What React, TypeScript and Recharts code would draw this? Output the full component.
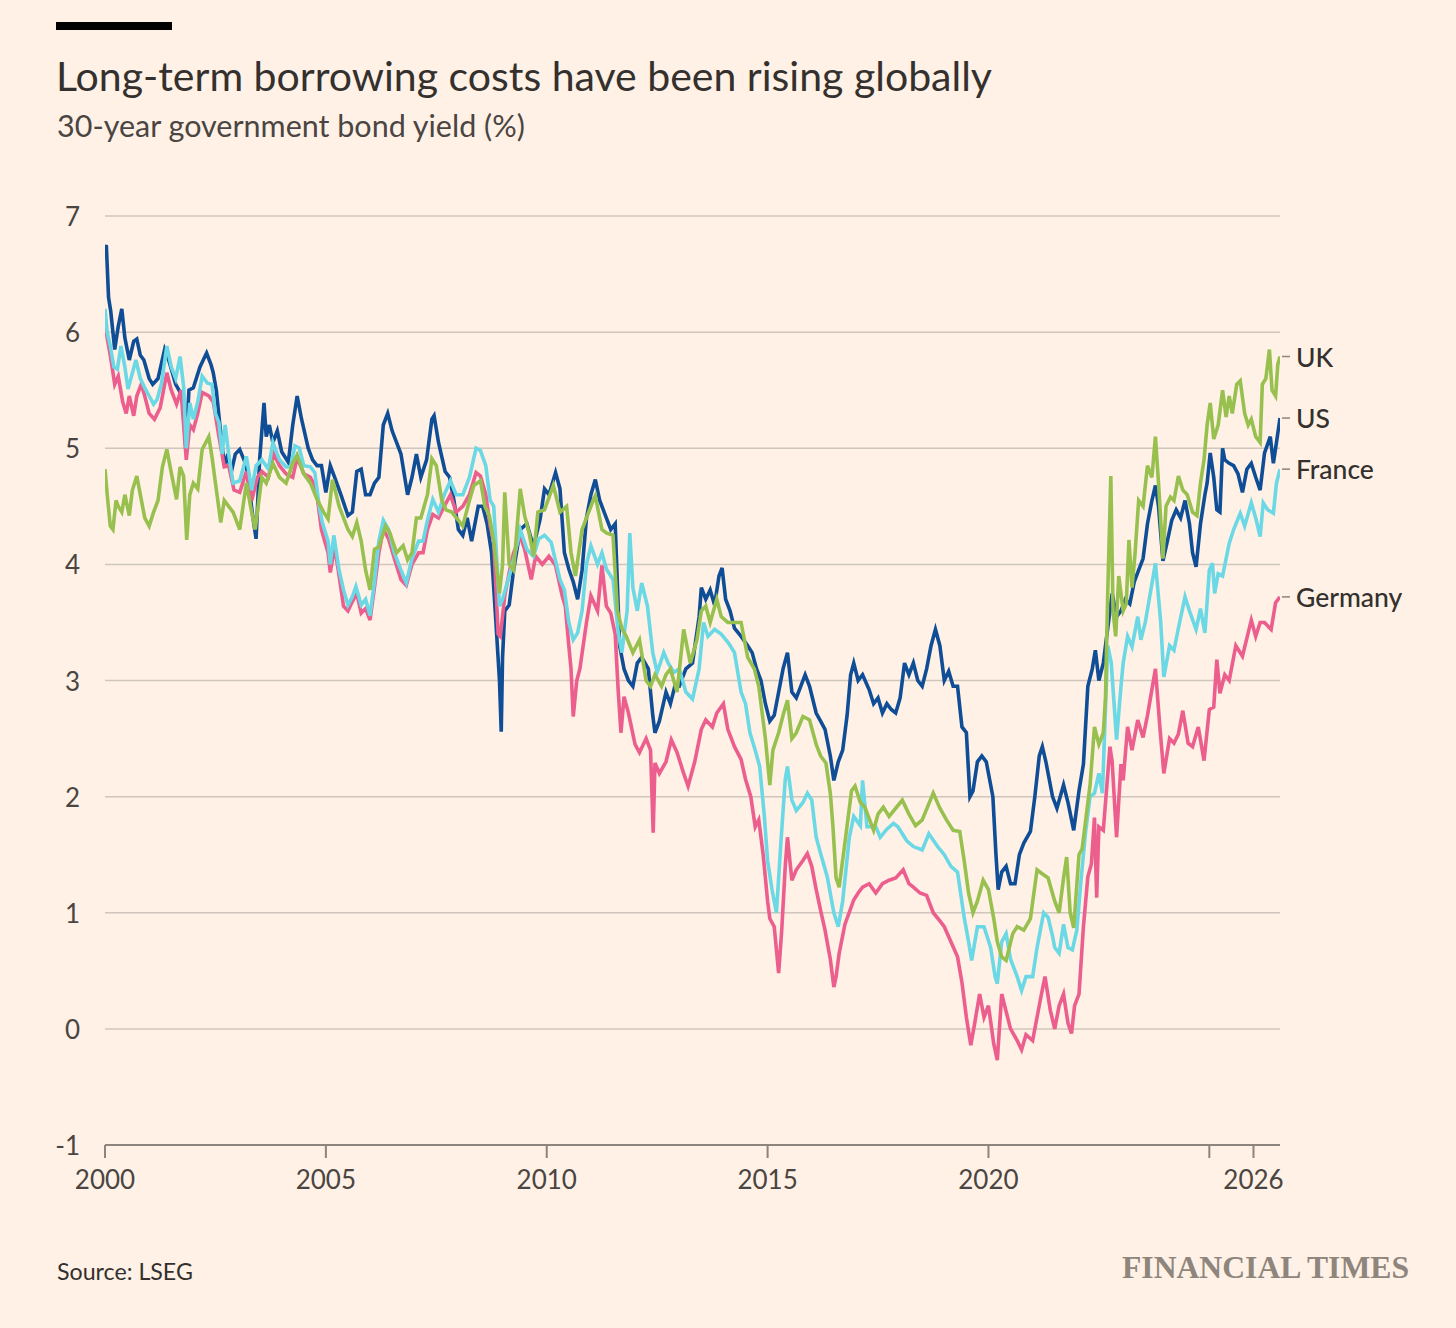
import React from 'react';
import { LineChart, Line, XAxis, YAxis, CartesianGrid, LabelList } from 'recharts';

// ---------- data (year as decimal, yield %) ----------
const YEAR_TICKS = [2000, 2005, 2010, 2015, 2020, 2025, 2026];
const YEAR_TICK_LABELS: Record<number, string> = { 2000: '2000', 2005: '2005', 2010: '2010', 2015: '2015', 2020: '2020', 2025: '', 2026: '2026' };
const VALUE_TICKS = [-1, 0, 1, 2, 3, 4, 5, 6, 7];

const US: [number, number][] = [
  [2000.0, 6.72], [2000.03, 6.75], [2000.08, 6.3], [2000.13, 6.18], [2000.22, 5.85], [2000.3, 6.05], [2000.38, 6.2],
  [2000.45, 5.95], [2000.55, 5.76], [2000.65, 5.92], [2000.72, 5.94], [2000.8, 5.8], [2000.88, 5.76], [2001.0, 5.6],
  [2001.08, 5.55], [2001.2, 5.6], [2001.35, 5.85], [2001.45, 5.75], [2001.6, 5.55], [2001.75, 5.45], [2001.83, 5.0],
  [2001.9, 5.5], [2002.0, 5.52], [2002.15, 5.7], [2002.3, 5.82], [2002.4, 5.72], [2002.45, 5.65], [2002.52, 5.5],
  [2002.6, 5.2], [2002.7, 4.85], [2002.78, 4.95], [2002.85, 4.78], [2002.95, 4.95], [2003.05, 4.99], [2003.2, 4.85],
  [2003.35, 4.4], [2003.42, 4.22], [2003.5, 4.9], [2003.6, 5.39], [2003.65, 5.1], [2003.72, 5.2], [2003.8, 5.05],
  [2003.9, 5.15], [2004.0, 4.97], [2004.15, 4.88], [2004.25, 5.2], [2004.35, 5.45], [2004.45, 5.25], [2004.6, 5.0],
  [2004.7, 4.9], [2004.8, 4.85], [2004.9, 4.85], [2005.0, 4.62], [2005.1, 4.85], [2005.2, 4.75], [2005.35, 4.59],
  [2005.5, 4.42], [2005.6, 4.45], [2005.7, 4.8], [2005.8, 4.82], [2005.9, 4.6], [2006.0, 4.6], [2006.1, 4.7],
  [2006.2, 4.75], [2006.3, 5.2], [2006.4, 5.3], [2006.5, 5.15], [2006.6, 5.05], [2006.7, 4.95], [2006.85, 4.6],
  [2006.95, 4.75], [2007.05, 4.95], [2007.15, 4.75], [2007.28, 4.9], [2007.4, 5.25], [2007.45, 5.28], [2007.55, 5.05],
  [2007.7, 4.8], [2007.8, 4.75], [2007.9, 4.55], [2008.0, 4.3], [2008.1, 4.25], [2008.2, 4.4], [2008.3, 4.2],
  [2008.45, 4.5], [2008.55, 4.5], [2008.65, 4.35], [2008.75, 4.1], [2008.85, 3.5], [2008.93, 3.0], [2008.97, 2.56],
  [2009.0, 3.2], [2009.05, 3.6], [2009.15, 3.65], [2009.25, 3.95], [2009.4, 4.3], [2009.55, 4.35], [2009.7, 4.15],
  [2009.85, 4.39], [2009.95, 4.65], [2010.05, 4.6], [2010.2, 4.79], [2010.3, 4.65], [2010.4, 4.1], [2010.5, 3.96],
  [2010.6, 3.85], [2010.7, 3.7], [2010.8, 3.95], [2010.9, 4.4], [2011.0, 4.6], [2011.1, 4.73], [2011.2, 4.55],
  [2011.3, 4.45], [2011.45, 4.3], [2011.55, 4.35], [2011.65, 3.3], [2011.75, 3.1], [2011.85, 3.0], [2011.95, 2.95],
  [2012.05, 3.15], [2012.15, 3.2], [2012.3, 3.1], [2012.4, 2.7], [2012.45, 2.55], [2012.55, 2.65], [2012.7, 2.9],
  [2012.8, 2.8], [2012.9, 2.95], [2013.0, 2.95], [2013.15, 3.1], [2013.3, 3.15], [2013.45, 3.55], [2013.5, 3.8],
  [2013.6, 3.7], [2013.7, 3.78], [2013.8, 3.65], [2013.9, 3.9], [2013.97, 3.97], [2014.05, 3.7], [2014.15, 3.6],
  [2014.25, 3.45], [2014.4, 3.38], [2014.55, 3.3], [2014.65, 3.24], [2014.75, 3.1], [2014.85, 3.0], [2014.95, 2.8],
  [2015.05, 2.65], [2015.15, 2.7], [2015.25, 2.9], [2015.35, 3.1], [2015.45, 3.24], [2015.55, 2.9], [2015.65, 2.85],
  [2015.75, 2.95], [2015.85, 3.05], [2015.95, 2.95], [2016.1, 2.72], [2016.2, 2.65], [2016.3, 2.58], [2016.42, 2.35],
  [2016.5, 2.14], [2016.6, 2.3], [2016.7, 2.4], [2016.8, 2.7], [2016.88, 3.05], [2016.95, 3.15], [2017.05, 3.0],
  [2017.15, 3.05], [2017.3, 2.92], [2017.4, 2.8], [2017.5, 2.85], [2017.6, 2.72], [2017.7, 2.8], [2017.8, 2.75],
  [2017.9, 2.72], [2018.0, 2.85], [2018.1, 3.15], [2018.2, 3.05], [2018.3, 3.15], [2018.4, 3.0], [2018.5, 2.95],
  [2018.6, 3.1], [2018.7, 3.3], [2018.8, 3.44], [2018.9, 3.3], [2019.0, 3.0], [2019.1, 3.08], [2019.2, 2.95],
  [2019.3, 2.95], [2019.4, 2.6], [2019.5, 2.55], [2019.58, 2.0], [2019.65, 2.05], [2019.75, 2.3], [2019.85, 2.35],
  [2019.95, 2.3], [2020.1, 2.0], [2020.17, 1.5], [2020.22, 1.2], [2020.3, 1.35], [2020.4, 1.4], [2020.5, 1.25],
  [2020.6, 1.25], [2020.7, 1.5], [2020.8, 1.6], [2020.95, 1.7], [2021.05, 2.0], [2021.15, 2.35], [2021.22, 2.43],
  [2021.3, 2.3], [2021.45, 2.0], [2021.55, 1.9], [2021.7, 2.1], [2021.8, 1.95], [2021.93, 1.71], [2022.05, 2.05],
  [2022.15, 2.28], [2022.25, 2.95], [2022.35, 3.1], [2022.42, 3.26], [2022.5, 3.0], [2022.6, 3.15], [2022.7, 3.45],
  [2022.8, 3.75], [2022.9, 3.55], [2023.0, 3.6], [2023.1, 3.7], [2023.2, 3.66], [2023.3, 3.85], [2023.4, 3.95],
  [2023.5, 4.05], [2023.6, 4.35], [2023.7, 4.55], [2023.78, 4.68], [2023.85, 4.5], [2023.95, 4.03], [2024.05, 4.2],
  [2024.15, 4.38], [2024.25, 4.47], [2024.35, 4.4], [2024.45, 4.55], [2024.55, 4.35], [2024.62, 4.1], [2024.7, 3.98],
  [2024.8, 4.35], [2024.9, 4.6], [2024.95, 4.7], [2025.02, 4.96], [2025.1, 4.75], [2025.17, 4.47], [2025.24, 4.45],
  [2025.3, 5.0], [2025.35, 4.9], [2025.45, 4.87], [2025.55, 4.85], [2025.65, 4.78], [2025.75, 4.62], [2025.85, 4.82],
  [2025.95, 4.87], [2026.05, 4.75], [2026.15, 4.64], [2026.25, 4.96], [2026.38, 5.1], [2026.45, 4.87], [2026.52, 5.05],
  [2026.6, 5.26],
];

const UK: [number, number][] = [
  [2000.0, 4.82], [2000.05, 4.6], [2000.12, 4.33], [2000.18, 4.3], [2000.25, 4.55], [2000.3, 4.5], [2000.38, 4.45],
  [2000.45, 4.6], [2000.55, 4.42], [2000.62, 4.64], [2000.72, 4.76], [2000.8, 4.6], [2000.9, 4.4], [2001.0, 4.33],
  [2001.1, 4.45], [2001.2, 4.55], [2001.3, 4.84], [2001.4, 4.99], [2001.5, 4.79], [2001.62, 4.56], [2001.7, 4.84],
  [2001.78, 4.76], [2001.85, 4.21], [2001.92, 4.6], [2002.0, 4.7], [2002.1, 4.65], [2002.2, 4.99], [2002.35, 5.1],
  [2002.42, 4.93], [2002.5, 4.7], [2002.55, 4.56], [2002.62, 4.36], [2002.7, 4.55], [2002.8, 4.5], [2002.9, 4.45],
  [2003.05, 4.3], [2003.2, 4.7], [2003.32, 4.45], [2003.4, 4.3], [2003.55, 4.75], [2003.65, 4.7], [2003.8, 4.87],
  [2003.95, 4.75], [2004.1, 4.7], [2004.25, 4.87], [2004.35, 4.94], [2004.5, 4.78], [2004.65, 4.7], [2004.8, 4.56],
  [2004.95, 4.45], [2005.05, 4.39], [2005.15, 4.73], [2005.3, 4.5], [2005.5, 4.3], [2005.6, 4.24], [2005.7, 4.36],
  [2005.8, 4.2], [2005.9, 3.95], [2006.0, 3.78], [2006.1, 4.13], [2006.2, 4.15], [2006.35, 4.33], [2006.45, 4.27],
  [2006.6, 4.1], [2006.75, 4.16], [2006.85, 4.04], [2006.95, 4.1], [2007.05, 4.4], [2007.15, 4.4], [2007.3, 4.6],
  [2007.4, 4.91], [2007.5, 4.85], [2007.62, 4.56], [2007.72, 4.47], [2007.85, 4.45], [2008.0, 4.38], [2008.1, 4.33],
  [2008.25, 4.55], [2008.35, 4.68], [2008.5, 4.72], [2008.6, 4.5], [2008.7, 4.42], [2008.8, 4.2], [2008.93, 3.75],
  [2009.0, 4.0], [2009.05, 4.62], [2009.15, 4.0], [2009.25, 3.95], [2009.4, 4.65], [2009.5, 4.42], [2009.6, 4.27],
  [2009.7, 4.07], [2009.8, 4.45], [2009.95, 4.47], [2010.15, 4.68], [2010.3, 4.45], [2010.45, 4.5], [2010.55, 4.1],
  [2010.65, 3.9], [2010.8, 4.3], [2010.92, 4.42], [2011.05, 4.55], [2011.1, 4.59], [2011.25, 4.3], [2011.35, 4.27],
  [2011.5, 4.25], [2011.6, 3.6], [2011.7, 3.45], [2011.8, 3.38], [2011.95, 3.24], [2012.1, 3.35], [2012.25, 3.0],
  [2012.35, 2.95], [2012.45, 3.05], [2012.6, 2.95], [2012.7, 3.05], [2012.8, 3.1], [2012.95, 2.9], [2013.1, 3.44],
  [2013.25, 3.15], [2013.4, 3.35], [2013.5, 3.6], [2013.6, 3.64], [2013.7, 3.5], [2013.85, 3.7], [2013.95, 3.55],
  [2014.1, 3.5], [2014.25, 3.5], [2014.4, 3.5], [2014.55, 3.2], [2014.7, 3.1], [2014.8, 2.95], [2014.95, 2.5],
  [2015.05, 2.1], [2015.12, 2.4], [2015.25, 2.55], [2015.35, 2.7], [2015.45, 2.83], [2015.55, 2.5], [2015.65, 2.55],
  [2015.8, 2.69], [2015.95, 2.66], [2016.1, 2.45], [2016.2, 2.35], [2016.32, 2.29], [2016.42, 2.03], [2016.48, 1.74],
  [2016.55, 1.3], [2016.62, 1.22], [2016.75, 1.6], [2016.9, 2.05], [2016.98, 2.09], [2017.1, 1.95], [2017.2, 1.91],
  [2017.4, 1.71], [2017.5, 1.85], [2017.62, 1.91], [2017.75, 1.83], [2017.9, 1.9], [2018.05, 1.97], [2018.2, 1.85],
  [2018.35, 1.75], [2018.5, 1.8], [2018.75, 2.03], [2018.9, 1.9], [2019.05, 1.8], [2019.2, 1.71], [2019.35, 1.7],
  [2019.45, 1.45], [2019.55, 1.17], [2019.65, 1.0], [2019.75, 1.1], [2019.88, 1.28], [2020.0, 1.2], [2020.12, 0.95],
  [2020.2, 0.75], [2020.3, 0.62], [2020.4, 0.59], [2020.55, 0.82], [2020.65, 0.88], [2020.8, 0.85], [2020.95, 0.95],
  [2021.1, 1.37], [2021.2, 1.34], [2021.35, 1.3], [2021.5, 1.1], [2021.6, 1.0], [2021.7, 1.3], [2021.77, 1.48],
  [2021.85, 1.0], [2021.93, 0.87], [2022.05, 1.5], [2022.12, 1.55], [2022.3, 2.1], [2022.4, 2.6], [2022.5, 2.45],
  [2022.6, 2.55], [2022.65, 2.86], [2022.7, 3.75], [2022.77, 4.76], [2022.82, 3.6], [2022.88, 3.38], [2022.95, 3.9],
  [2023.05, 3.6], [2023.12, 3.66], [2023.18, 4.21], [2023.25, 3.8], [2023.32, 4.1], [2023.4, 4.55], [2023.5, 4.5],
  [2023.6, 4.85], [2023.7, 4.75], [2023.78, 5.1], [2023.85, 4.7], [2023.95, 4.05], [2024.02, 4.5], [2024.12, 4.58],
  [2024.2, 4.55], [2024.3, 4.76], [2024.4, 4.64], [2024.5, 4.6], [2024.62, 4.45], [2024.72, 4.42], [2024.8, 4.7],
  [2024.88, 4.9], [2024.95, 5.2], [2025.02, 5.39], [2025.1, 5.08], [2025.2, 5.2], [2025.3, 5.5], [2025.38, 5.27],
  [2025.45, 5.45], [2025.52, 5.3], [2025.62, 5.55], [2025.7, 5.58], [2025.8, 5.3], [2025.88, 5.2], [2025.95, 5.25],
  [2026.05, 5.1], [2026.15, 5.05], [2026.2, 5.55], [2026.28, 5.6], [2026.36, 5.85], [2026.42, 5.5], [2026.5, 5.45],
  [2026.55, 5.72], [2026.6, 5.79],
];

const FRANCE: [number, number][] = [
  [2000.0, 6.2], [2000.05, 6.0], [2000.12, 5.88], [2000.2, 5.7], [2000.28, 5.68], [2000.36, 5.88], [2000.45, 5.7],
  [2000.52, 5.51], [2000.6, 5.62], [2000.7, 5.76], [2000.8, 5.6], [2000.9, 5.52], [2001.0, 5.45], [2001.1, 5.38],
  [2001.18, 5.42], [2001.28, 5.56], [2001.4, 5.88], [2001.5, 5.7], [2001.6, 5.6], [2001.7, 5.79], [2001.78, 5.53],
  [2001.84, 5.0], [2001.92, 5.39], [2002.0, 5.25], [2002.1, 5.4], [2002.2, 5.62], [2002.32, 5.56], [2002.42, 5.55],
  [2002.5, 5.3], [2002.58, 5.22], [2002.65, 4.95], [2002.72, 5.2], [2002.8, 4.95], [2002.9, 4.7], [2003.05, 4.72],
  [2003.2, 4.93], [2003.32, 4.64], [2003.42, 4.85], [2003.55, 4.9], [2003.7, 4.82], [2003.8, 5.05], [2003.95, 4.9],
  [2004.1, 4.84], [2004.2, 4.84], [2004.3, 5.02], [2004.4, 5.0], [2004.5, 4.85], [2004.65, 4.84], [2004.75, 4.79],
  [2004.85, 4.5], [2004.92, 4.36], [2005.05, 4.2], [2005.1, 4.0], [2005.18, 4.25], [2005.3, 3.95], [2005.4, 3.78],
  [2005.5, 3.65], [2005.6, 3.72], [2005.68, 3.81], [2005.8, 3.65], [2005.9, 3.7], [2006.0, 3.56], [2006.1, 3.85],
  [2006.2, 4.2], [2006.3, 4.38], [2006.42, 4.3], [2006.55, 4.1], [2006.7, 3.95], [2006.82, 3.84], [2006.95, 4.05],
  [2007.1, 4.2], [2007.2, 4.2], [2007.3, 4.38], [2007.42, 4.56], [2007.55, 4.45], [2007.68, 4.6], [2007.82, 4.72],
  [2007.95, 4.6], [2008.1, 4.6], [2008.25, 4.75], [2008.4, 5.0], [2008.5, 4.98], [2008.62, 4.85], [2008.72, 4.55],
  [2008.8, 4.5], [2008.93, 3.64], [2009.0, 3.7], [2009.15, 3.9], [2009.25, 4.04], [2009.4, 4.3], [2009.55, 4.13],
  [2009.7, 4.07], [2009.82, 4.22], [2009.95, 4.25], [2010.1, 4.19], [2010.3, 3.87], [2010.4, 3.78], [2010.5, 3.5],
  [2010.6, 3.35], [2010.7, 3.41], [2010.8, 3.6], [2010.9, 4.0], [2011.0, 4.16], [2011.15, 4.0], [2011.25, 4.1],
  [2011.35, 3.96], [2011.5, 3.87], [2011.62, 3.41], [2011.7, 3.24], [2011.82, 3.6], [2011.88, 4.27], [2011.95, 3.8],
  [2012.05, 3.6], [2012.15, 3.84], [2012.28, 3.64], [2012.4, 3.24], [2012.5, 3.07], [2012.65, 3.24], [2012.75, 3.15],
  [2012.88, 3.07], [2013.0, 3.1], [2013.15, 2.9], [2013.3, 2.84], [2013.45, 3.1], [2013.55, 3.5], [2013.65, 3.38],
  [2013.8, 3.44], [2013.95, 3.4], [2014.12, 3.32], [2014.25, 3.24], [2014.4, 2.9], [2014.5, 2.8], [2014.6, 2.55],
  [2014.72, 2.4], [2014.82, 2.26], [2014.92, 1.86], [2015.0, 1.45], [2015.1, 1.2], [2015.2, 1.0], [2015.3, 1.6],
  [2015.4, 2.15], [2015.45, 2.26], [2015.55, 1.97], [2015.65, 1.88], [2015.8, 1.95], [2015.9, 2.03], [2016.0, 1.97],
  [2016.1, 1.65], [2016.2, 1.51], [2016.35, 1.31], [2016.5, 1.0], [2016.6, 0.88], [2016.7, 1.1], [2016.85, 1.65],
  [2016.95, 1.83], [2017.1, 1.75], [2017.15, 2.14], [2017.25, 1.74], [2017.45, 1.74], [2017.55, 1.65], [2017.7, 1.72],
  [2017.85, 1.77], [2017.95, 1.74], [2018.15, 1.62], [2018.3, 1.57], [2018.5, 1.54], [2018.65, 1.68], [2018.85, 1.57],
  [2019.0, 1.5], [2019.15, 1.4], [2019.3, 1.35], [2019.45, 0.96], [2019.55, 0.75], [2019.62, 0.59], [2019.75, 0.88],
  [2019.9, 0.88], [2020.05, 0.7], [2020.15, 0.45], [2020.2, 0.39], [2020.3, 0.75], [2020.4, 0.82], [2020.5, 0.6],
  [2020.65, 0.45], [2020.75, 0.33], [2020.85, 0.45], [2021.0, 0.45], [2021.1, 0.7], [2021.25, 1.0], [2021.35, 0.96],
  [2021.45, 0.8], [2021.5, 0.7], [2021.6, 0.65], [2021.7, 0.9], [2021.8, 0.7], [2021.9, 0.68], [2022.0, 0.85],
  [2022.1, 1.3], [2022.2, 1.7], [2022.3, 2.0], [2022.4, 2.03], [2022.5, 2.2], [2022.58, 2.03], [2022.7, 3.3],
  [2022.78, 3.15], [2022.9, 2.49], [2023.0, 2.95], [2023.05, 3.15], [2023.15, 3.38], [2023.25, 3.29], [2023.38, 3.55],
  [2023.45, 3.35], [2023.55, 3.5], [2023.78, 4.01], [2023.9, 3.5], [2023.97, 3.03], [2024.1, 3.3], [2024.2, 3.26],
  [2024.3, 3.45], [2024.45, 3.72], [2024.55, 3.6], [2024.7, 3.44], [2024.8, 3.62], [2024.9, 3.41], [2025.0, 3.95],
  [2025.07, 4.01], [2025.12, 3.75], [2025.2, 3.92], [2025.3, 3.9], [2025.45, 4.18], [2025.55, 4.3], [2025.7, 4.44],
  [2025.8, 4.33], [2025.95, 4.53], [2026.05, 4.4], [2026.15, 4.24], [2026.22, 4.53], [2026.32, 4.47], [2026.45, 4.44],
  [2026.52, 4.7], [2026.6, 4.82],
];

const GERMANY: [number, number][] = [
  [2000.0, 6.1], [2000.05, 5.95], [2000.12, 5.8], [2000.22, 5.55], [2000.3, 5.62], [2000.4, 5.4], [2000.48, 5.3],
  [2000.55, 5.45], [2000.65, 5.28], [2000.72, 5.45], [2000.82, 5.55], [2000.9, 5.45], [2001.0, 5.3], [2001.12, 5.25],
  [2001.25, 5.35], [2001.4, 5.65], [2001.5, 5.5], [2001.62, 5.38], [2001.72, 5.5], [2001.84, 4.9], [2001.92, 5.2],
  [2002.0, 5.16], [2002.1, 5.3], [2002.2, 5.48], [2002.35, 5.45], [2002.45, 5.4], [2002.58, 5.1], [2002.7, 4.84],
  [2002.8, 4.85], [2002.92, 4.64], [2003.05, 4.62], [2003.2, 4.8], [2003.32, 4.55], [2003.45, 4.75], [2003.55, 4.8],
  [2003.7, 4.75], [2003.82, 4.95], [2003.95, 4.85], [2004.1, 4.78], [2004.25, 4.75], [2004.35, 4.92], [2004.5, 4.78],
  [2004.65, 4.75], [2004.78, 4.65], [2004.9, 4.3], [2005.05, 4.1], [2005.1, 3.93], [2005.2, 4.15], [2005.3, 3.9],
  [2005.4, 3.64], [2005.5, 3.6], [2005.6, 3.68], [2005.7, 3.75], [2005.8, 3.58], [2005.9, 3.62], [2006.0, 3.52],
  [2006.1, 3.8], [2006.2, 4.1], [2006.3, 4.3], [2006.42, 4.22], [2006.55, 4.05], [2006.7, 3.87], [2006.82, 3.82],
  [2006.95, 4.0], [2007.1, 4.1], [2007.2, 4.1], [2007.3, 4.3], [2007.42, 4.43], [2007.55, 4.4], [2007.68, 4.5],
  [2007.82, 4.6], [2007.95, 4.45], [2008.1, 4.5], [2008.25, 4.6], [2008.4, 4.79], [2008.5, 4.76], [2008.62, 4.6],
  [2008.72, 4.33], [2008.8, 4.2], [2008.9, 3.4], [2008.95, 3.38], [2009.05, 3.73], [2009.15, 3.93], [2009.25, 4.1],
  [2009.4, 4.24], [2009.5, 4.13], [2009.65, 3.87], [2009.75, 4.07], [2009.9, 4.0], [2010.05, 4.07], [2010.2, 3.99],
  [2010.35, 3.73], [2010.42, 3.64], [2010.5, 3.3], [2010.55, 3.1], [2010.6, 2.69], [2010.68, 3.0], [2010.75, 3.1],
  [2010.9, 3.5], [2011.0, 3.73], [2011.15, 3.6], [2011.25, 3.99], [2011.35, 3.64], [2011.45, 3.58], [2011.55, 3.4],
  [2011.62, 2.9], [2011.68, 2.55], [2011.75, 2.86], [2011.85, 2.72], [2012.0, 2.45], [2012.1, 2.38], [2012.25, 2.5],
  [2012.35, 2.4], [2012.41, 1.69], [2012.45, 2.29], [2012.55, 2.2], [2012.7, 2.3], [2012.82, 2.49], [2012.95, 2.38],
  [2013.1, 2.2], [2013.2, 2.09], [2013.35, 2.3], [2013.5, 2.58], [2013.6, 2.66], [2013.75, 2.6], [2013.85, 2.72],
  [2014.0, 2.8], [2014.1, 2.58], [2014.25, 2.43], [2014.4, 2.32], [2014.5, 2.15], [2014.62, 2.0], [2014.72, 1.74],
  [2014.8, 1.8], [2014.9, 1.5], [2015.0, 1.1], [2015.05, 0.95], [2015.15, 0.88], [2015.25, 0.48], [2015.32, 0.85],
  [2015.4, 1.4], [2015.45, 1.65], [2015.55, 1.28], [2015.65, 1.37], [2015.8, 1.45], [2015.9, 1.51], [2016.0, 1.4],
  [2016.1, 1.2], [2016.2, 1.02], [2016.3, 0.85], [2016.42, 0.6], [2016.5, 0.36], [2016.55, 0.45], [2016.62, 0.65],
  [2016.75, 0.9], [2016.95, 1.11], [2017.05, 1.17], [2017.15, 1.22], [2017.3, 1.25], [2017.45, 1.17], [2017.6, 1.25],
  [2017.75, 1.28], [2017.9, 1.3], [2018.07, 1.37], [2018.2, 1.25], [2018.3, 1.22], [2018.45, 1.17], [2018.6, 1.15],
  [2018.75, 1.0], [2018.9, 0.93], [2019.0, 0.88], [2019.15, 0.75], [2019.3, 0.62], [2019.4, 0.4], [2019.5, 0.1],
  [2019.6, -0.14], [2019.68, 0.03], [2019.8, 0.3], [2019.9, 0.1], [2020.0, 0.2], [2020.12, -0.13], [2020.2, -0.27],
  [2020.3, 0.3], [2020.4, 0.15], [2020.5, 0.0], [2020.65, -0.1], [2020.75, -0.18], [2020.85, -0.05], [2021.0, -0.1],
  [2021.1, 0.1], [2021.2, 0.3], [2021.28, 0.45], [2021.4, 0.16], [2021.5, 0.0], [2021.6, 0.2], [2021.7, 0.3],
  [2021.8, 0.05], [2021.88, -0.04], [2021.95, 0.2], [2022.05, 0.3], [2022.15, 0.88], [2022.25, 1.31], [2022.33, 1.42],
  [2022.4, 1.82], [2022.45, 1.13], [2022.5, 1.74], [2022.6, 1.71], [2022.75, 2.43], [2022.8, 2.3], [2022.9, 1.65],
  [2023.0, 2.28], [2023.05, 2.14], [2023.15, 2.6], [2023.25, 2.4], [2023.38, 2.66], [2023.5, 2.51], [2023.6, 2.7],
  [2023.78, 3.1], [2023.88, 2.6], [2023.97, 2.2], [2024.1, 2.5], [2024.2, 2.46], [2024.3, 2.54], [2024.4, 2.74],
  [2024.52, 2.46], [2024.62, 2.43], [2024.75, 2.6], [2024.88, 2.31], [2025.0, 2.75], [2025.1, 2.77], [2025.17, 3.18],
  [2025.24, 2.89], [2025.35, 3.05], [2025.45, 3.0], [2025.6, 3.3], [2025.75, 3.21], [2025.95, 3.52], [2026.05, 3.38],
  [2026.15, 3.5], [2026.25, 3.5], [2026.4, 3.44], [2026.5, 3.67], [2026.6, 3.72],
];

// drawing order: first is drawn underneath
const SERIES = [
  { name: 'US', points: US, color: '#0F4E96' },
  { name: 'Germany', points: GERMANY, color: '#EB5E8D' },
  { name: 'France', points: FRANCE, color: '#6BD8E5' },
  { name: 'UK', points: UK, color: '#98C04F' },
];

const W = 1456;
const H = 1328;
const FONT = 'Lato, "Open Sans", sans-serif';
const TEXT = '#33302E';

function makeEndLabel(name: string, last: number) {
  return (p: any) => {
    if (p.index !== last) return null;
    const x = Number(p.x);
    const y = Number(p.y);
    return (
      <g>
        <line x1={x + 2} x2={x + 10} y1={y} y2={y} stroke="#8C847D" strokeWidth={1.5} />
        <text x={x + 16} y={y} dominantBaseline="central" fontFamily={FONT} fontSize={26.5} fontWeight={500} fill={TEXT}>
          {name}
        </text>
      </g>
    );
  };
}

const YTick = (p: any) => (
  <text x={p.x} y={p.y} textAnchor="end" dominantBaseline="central" fontFamily={FONT} fontSize={26} fill="#4A4542">
    {p.payload.value}
  </text>
);

const XTick = (p: any) => (
  <text x={p.x} y={p.y} dy="0.71em" textAnchor="middle" fontFamily={FONT} fontSize={26} fill="#4A4542">
    {YEAR_TICK_LABELS[p.payload.value]}
  </text>
);

export default function App() {
  return (
    <div style={{ position: 'absolute', left: 0, top: 0, width: W, height: H, background: '#FFF1E5', overflow: 'hidden' }}>
      <svg width={W} height={H} style={{ position: 'absolute', left: 0, top: 0 }}>
        <rect x={56} y={22} width={116} height={8} fill="#000" />
        <text x={56} y={91} fontFamily={FONT} fontSize={41} fill={TEXT}>
          Long-term borrowing costs have been rising globally
        </text>
        <text x={57} y={137} fontFamily={FONT} fontSize={30.5} fill="#4A4542">
          30-year government bond yield (%)
        </text>
        <text x={57} y={1280} fontFamily={FONT} fontSize={23.2} fill={TEXT}>
          Source: LSEG
        </text>
        <text x={1122} y={1278} fontFamily='"Liberation Serif", "DejaVu Serif", serif' fontSize={32} fontWeight={700}
          fill="#8E857D" textLength={287} lengthAdjust="spacingAndGlyphs">
          FINANCIAL TIMES
        </text>
      </svg>
      <div style={{ position: 'absolute', left: 0, top: 0 }}>
        <LineChart width={W} height={H} margin={{ top: 216, right: 176, bottom: 123, left: 45 }}>
          <CartesianGrid vertical={false} stroke="#CFC6BD" strokeWidth={1.5} />
          <XAxis
            dataKey="t"
            type="number"
            domain={[2000, 2026.6]}
            ticks={YEAR_TICKS}
            interval={0}
            allowDataOverflow
            height={60}
            tickSize={13}
            tickMargin={13}
            axisLine={{ stroke: '#8C847D', strokeWidth: 2 }}
            tickLine={{ stroke: '#8C847D', strokeWidth: 2 }}
            tick={XTick}
          />
          <YAxis
            type="number"
            domain={[-1, 7]}
            ticks={VALUE_TICKS}
            interval={0}
            width={60}
            axisLine={false}
            tickLine={false}
            tickSize={0}
            tickMargin={25}
            tick={YTick}
          />
          {SERIES.map((s) => {
            const data = s.points.map(([t, v]) => ({ t, v }));
            return (
              <Line
                key={s.name}
                data={data}
                dataKey="v"
                name={s.name}
                type="linear"
                stroke={s.color}
                strokeWidth={3.6}
                dot={false}
                activeDot={false}
                isAnimationActive={false}
              >
                <LabelList dataKey="v" content={makeEndLabel(s.name, data.length - 1)} />
              </Line>
            );
          })}
        </LineChart>
      </div>
    </div>
  );
}
